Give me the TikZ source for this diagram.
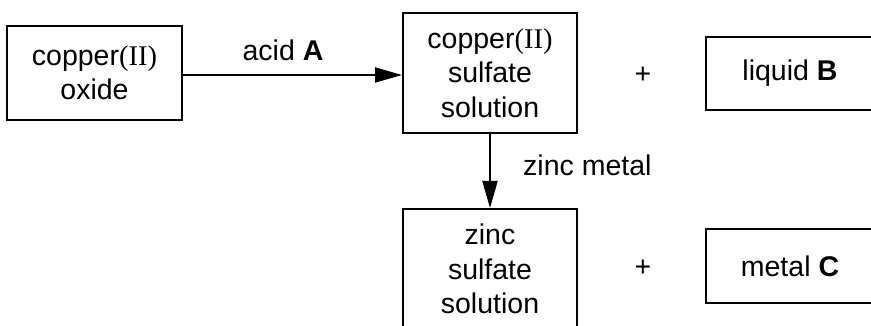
\documentclass[tikz,border=0pt]{standalone}
\usepackage{fontspec}
\setmainfont{Liberation Sans}
\newfontfamily\romfont{Liberation Serif}
\usetikzlibrary{arrows.meta}

\begin{document}
\begin{tikzpicture}[x=1pt, y=1pt,
    box/.style={draw, line width=2pt, align=center, inner sep=0pt},
    lbl/.style={inner sep=0pt},
    reacts/.style={-{Triangle[length=27pt, width=15pt]}, line width=2pt},
    font=\fontsize{28.5}{34.5}\selectfont]
      \useasboundingbox (0,0) rectangle (871,-326);
      \clip (0,0) rectangle (871,-326);

      % boxes
      \node[box, minimum width=175pt, minimum height=94pt] (oxide) at (94.5,-73)
        {copper{\romfont(II)}\\oxide};
      \node[box, minimum width=174pt, minimum height=120pt] (cusulf) at (490,-73)
        {copper{\romfont(II)}\\sulfate\\solution};
      \node[box, minimum width=168pt, minimum height=73pt] (liqB) at (790,-73.5)
        {liquid \textbf{B}};
      \node[box, minimum width=174pt, minimum height=120pt] (znsulf) at (490,-269)
        {zinc\\sulfate\\solution};
      \node[box, minimum width=168pt, minimum height=74pt] (metC) at (790,-266)
        {metal \textbf{C}};

      \node[lbl] (plusB) at (643,-75) {+};
      \node[lbl] (plusC) at (643,-268) {+};

      % reactions
      \draw[reacts] (oxide.east |- 0,-75) -- (cusulf.west |- 0,-75);
      \node[lbl, anchor=base] (acidA) at (283,-61) {acid \textbf{A}};
      \draw[reacts] (cusulf.south) -- (znsulf.north);
      \node[lbl, anchor=base west] (zinc) at (523,-176) {zinc metal};
\end{tikzpicture}
\end{document}
